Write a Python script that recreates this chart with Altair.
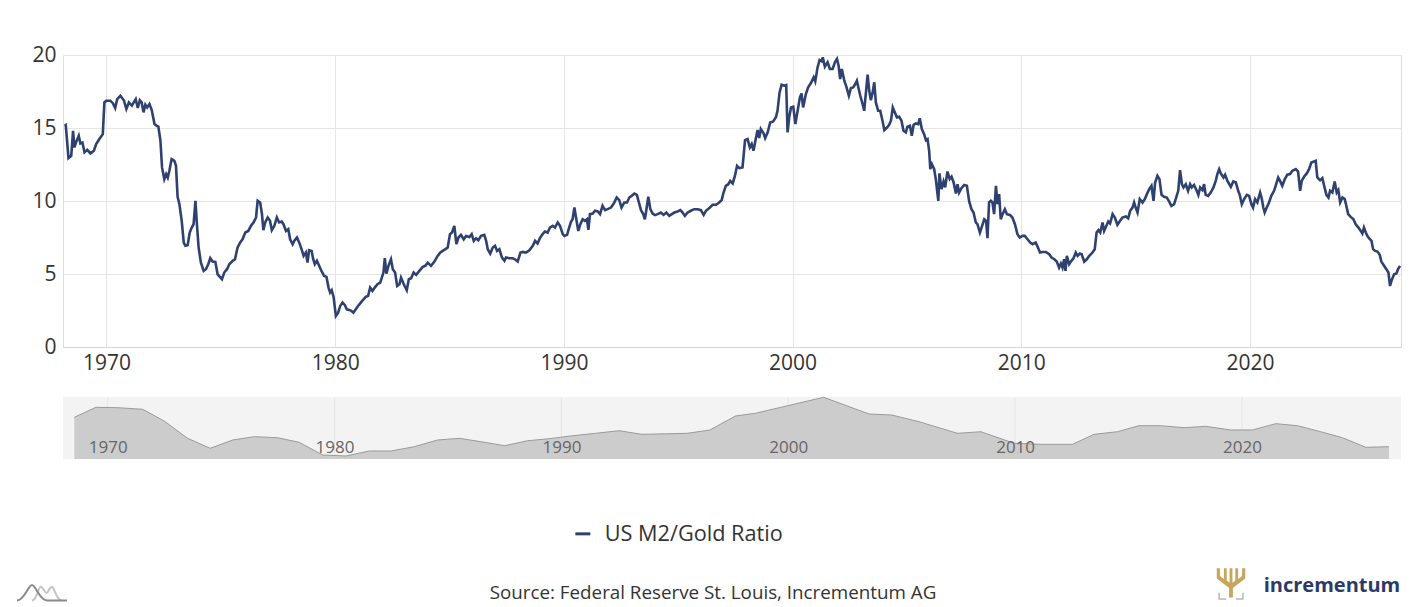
import altair as alt
import pandas as pd

# ---------------- data ----------------
series_name = "US M2/Gold Ratio"
source_note = "Source: Federal Reserve St. Louis, Incrementum AG"
brand_name = "incrementum"

x_ticks = [1970, 1980, 1990, 2000, 2010, 2020]
y_ticks = [0, 5, 10, 15, 20]

ratio_1968_1982 = [
    (1968.17, 15.15), (1968.22, 15.2), (1968.34, 12.94), (1968.46, 13.1), (1968.54, 14.8),
    (1968.60, 13.67), (1968.69, 14.1), (1968.79, 14.47), (1968.86, 13.94), (1968.95, 14.0),
    (1969.04, 13.33), (1969.16, 13.5), (1969.30, 13.26), (1969.45, 13.44), (1969.55, 13.9),
    (1969.69, 14.24), (1969.84, 14.58), (1969.91, 16.75), (1969.99, 16.87), (1970.17, 16.87),
    (1970.28, 16.7), (1970.38, 16.37), (1970.47, 16.98), (1970.61, 17.21), (1970.76, 16.9),
    (1970.87, 16.3), (1970.98, 16.75), (1971.11, 16.53), (1971.28, 16.98), (1971.37, 16.37),
    (1971.46, 16.9), (1971.54, 16.75), (1971.62, 16.07), (1971.70, 16.6), (1971.78, 16.41),
    (1971.88, 16.64), (1971.98, 16.23), (1972.10, 15.27), (1972.20, 15.15), (1972.27, 15.09),
    (1972.36, 14.13), (1972.43, 12.3), (1972.53, 11.5), (1972.61, 11.84), (1972.68, 11.61),
    (1972.75, 12.07), (1972.85, 12.87), (1972.97, 12.75), (1973.04, 12.41), (1973.11, 10.29),
    (1973.19, 9.78), (1973.29, 8.64), (1973.38, 7.15), (1973.45, 6.93), (1973.55, 6.97),
    (1973.64, 7.84), (1973.73, 8.18), (1973.81, 8.41), (1973.89, 10.01), (1973.96, 8.3),
    (1974.03, 6.81), (1974.13, 5.78), (1974.25, 5.21), (1974.35, 5.33), (1974.45, 5.67),
    (1974.54, 6.08), (1974.64, 5.85), (1974.76, 5.83), (1974.86, 4.98), (1974.96, 4.8),
    (1975.05, 4.64), (1975.15, 5.1), (1975.27, 5.33), (1975.37, 5.67), (1975.52, 5.9),
    (1975.62, 6.01), (1975.73, 6.81), (1975.84, 7.15), (1975.95, 7.38), (1976.07, 7.84),
    (1976.20, 7.95), (1976.32, 8.3), (1976.43, 8.53), (1976.54, 8.87), (1976.61, 10.01),
    (1976.72, 9.9), (1976.80, 9.1), (1976.86, 8.0), (1976.94, 8.53), (1977.05, 8.87),
    (1977.15, 8.64), (1977.23, 8.0), (1977.34, 8.3), (1977.45, 8.87), (1977.55, 8.53),
    (1977.66, 8.59), (1977.74, 8.41), (1977.85, 7.95), (1977.95, 8.07), (1978.03, 7.38),
    (1978.14, 7.04), (1978.21, 7.27), (1978.33, 7.5), (1978.43, 7.15), (1978.53, 6.7),
    (1978.62, 6.24), (1978.72, 6.47), (1978.79, 5.78), (1978.86, 6.63), (1978.97, 6.58),
    (1979.04, 6.01), (1979.11, 5.67), (1979.20, 5.9), (1979.30, 5.56), (1979.40, 5.21),
    (1979.52, 4.87), (1979.62, 4.8), (1979.71, 4.07), (1979.78, 3.73), (1979.85, 3.89),
    (1979.93, 3.43), (1980.03, 2.13), (1980.13, 2.35), (1980.22, 2.81), (1980.32, 3.04),
    (1980.42, 2.88), (1980.51, 2.58), (1980.61, 2.54), (1980.71, 2.47), (1980.80, 2.35),
    (1980.90, 2.58), (1981.00, 2.81), (1981.12, 3.04), (1981.24, 3.27), (1981.34, 3.43),
    (1981.44, 3.5), (1981.53, 4.07), (1981.63, 3.84), (1981.73, 4.07), (1981.85, 4.3),
    (1981.97, 4.41), (1982.04, 4.75), (1982.11, 5.1), (1982.17, 6.08), (1982.24, 5.03),
    (1982.33, 5.56), (1982.44, 6.01),
]

ratio_1982_1997 = [
    (1982.52, 5.33), (1982.62, 5.1), (1982.71, 4.18), (1982.81, 4.3), (1982.88, 4.75),
    (1983.00, 4.3), (1983.13, 3.89), (1983.22, 4.64), (1983.32, 4.71), (1983.43, 5.1),
    (1983.54, 4.94), (1983.68, 5.21), (1983.83, 5.49), (1983.94, 5.56), (1984.05, 5.78),
    (1984.19, 5.56), (1984.34, 5.85), (1984.48, 6.24), (1984.60, 6.47), (1984.70, 6.58),
    (1984.82, 6.7), (1984.92, 6.81), (1985.02, 7.73), (1985.11, 7.84), (1985.21, 8.3),
    (1985.30, 7.04), (1985.39, 7.5), (1985.50, 7.68), (1985.62, 7.38), (1985.72, 7.61),
    (1985.87, 7.54), (1985.97, 7.73), (1986.06, 7.27), (1986.16, 7.45), (1986.26, 7.31),
    (1986.38, 7.61), (1986.52, 7.68), (1986.60, 7.27), (1986.67, 6.7), (1986.78, 6.4),
    (1986.89, 6.81), (1986.99, 6.93), (1987.08, 6.58), (1987.18, 6.7), (1987.29, 6.13),
    (1987.40, 5.9), (1987.47, 6.13), (1987.62, 6.08), (1987.76, 6.08), (1987.86, 6.01),
    (1987.98, 5.85), (1988.10, 6.47), (1988.20, 6.51), (1988.34, 6.47), (1988.49, 6.63),
    (1988.64, 6.93), (1988.74, 7.27), (1988.85, 7.09), (1988.95, 7.45), (1989.07, 7.73),
    (1989.17, 7.91), (1989.29, 7.84), (1989.39, 8.18), (1989.51, 8.3), (1989.61, 8.18),
    (1989.73, 8.53), (1989.83, 8.3), (1989.95, 7.73), (1990.02, 7.61), (1990.14, 7.68),
    (1990.21, 8.07), (1990.31, 8.57), (1990.38, 8.75), (1990.46, 9.55), (1990.53, 8.87),
    (1990.63, 7.95), (1990.72, 8.41), (1990.82, 8.75), (1990.92, 8.64), (1991.01, 8.75),
    (1991.07, 8.02), (1991.14, 9.1), (1991.26, 9.14), (1991.36, 9.33), (1991.48, 9.28),
    (1991.58, 9.1), (1991.69, 9.67), (1991.80, 9.37), (1991.91, 9.44), (1992.06, 9.55),
    (1992.18, 9.83), (1992.31, 10.24), (1992.42, 10.06), (1992.52, 9.55), (1992.64, 9.9),
    (1992.76, 9.9), (1992.86, 10.24), (1992.96, 10.35), (1993.08, 10.51), (1993.19, 10.42),
    (1993.30, 9.78), (1993.37, 9.37), (1993.47, 9.1), (1993.54, 8.75), (1993.60, 9.33),
    (1993.69, 10.29), (1993.78, 9.44), (1993.88, 9.14), (1993.98, 9.03), (1994.10, 9.1),
    (1994.24, 9.21), (1994.36, 9.05), (1994.48, 9.21), (1994.61, 8.98), (1994.72, 9.1),
    (1994.83, 9.21), (1994.97, 9.28), (1995.09, 9.37), (1995.19, 9.21), (1995.29, 8.98),
    (1995.41, 9.21), (1995.55, 9.33), (1995.70, 9.44), (1995.85, 9.44), (1995.99, 9.37),
    (1996.11, 9.05), (1996.21, 9.33), (1996.36, 9.51), (1996.50, 9.74), (1996.65, 9.74),
    (1996.79, 9.9), (1996.90, 10.06), (1996.98, 10.58),
]

ratio_1997_2011 = [
    (1997.08, 11.04), (1997.19, 11.15), (1997.27, 11.38), (1997.38, 11.2), (1997.48, 11.73),
    (1997.57, 12.41), (1997.67, 12.25), (1997.81, 12.3), (1997.92, 14.17), (1998.03, 14.24),
    (1998.13, 13.67), (1998.21, 13.9), (1998.29, 13.44), (1998.40, 14.35), (1998.47, 14.86),
    (1998.54, 14.31), (1998.61, 14.93), (1998.73, 14.63), (1998.80, 14.31), (1998.91, 14.7),
    (1999.02, 15.38), (1999.15, 15.45), (1999.27, 15.73), (1999.34, 16.18), (1999.43, 17.44),
    (1999.52, 17.97), (1999.63, 17.9), (1999.72, 17.94), (1999.78, 14.7), (1999.85, 15.73),
    (1999.93, 16.41), (2000.03, 16.46), (2000.12, 15.27), (2000.22, 16.18), (2000.32, 17.1),
    (2000.39, 17.37), (2000.46, 16.41), (2000.58, 17.33), (2000.68, 17.78), (2000.80, 18.08),
    (2000.92, 18.47), (2000.99, 18.19), (2001.09, 19.15), (2001.18, 19.66), (2001.27, 19.57),
    (2001.32, 19.84), (2001.41, 19.2), (2001.53, 19.5), (2001.63, 19.04), (2001.75, 19.04),
    (2001.85, 19.5), (2001.94, 19.73), (2002.01, 19.27), (2002.08, 18.35), (2002.15, 19.04),
    (2002.26, 18.24), (2002.36, 17.78), (2002.46, 17.21), (2002.55, 17.74), (2002.65, 17.78),
    (2002.74, 18.01), (2002.81, 18.24), (2002.88, 17.74), (2002.96, 17.21), (2003.06, 16.64),
    (2003.13, 16.18), (2003.20, 17.33), (2003.28, 18.65), (2003.35, 17.55), (2003.42, 16.91),
    (2003.50, 17.44), (2003.57, 18.13), (2003.64, 16.75), (2003.74, 16.18), (2003.83, 16.18),
    (2003.93, 15.5), (2004.01, 14.86), (2004.11, 15.0), (2004.22, 15.22), (2004.30, 15.5),
    (2004.38, 16.41), (2004.47, 16.07), (2004.56, 15.73), (2004.66, 15.77), (2004.76, 15.5),
    (2004.85, 14.81), (2004.95, 14.7), (2005.02, 15.09), (2005.13, 15.15), (2005.21, 14.47),
    (2005.29, 15.22), (2005.39, 15.31), (2005.49, 15.27), (2005.56, 15.66), (2005.65, 14.93),
    (2005.75, 14.58), (2005.83, 14.17), (2005.90, 14.24), (2005.97, 13.44), (2006.02, 12.18),
    (2006.09, 12.53), (2006.19, 12.18), (2006.26, 11.5), (2006.37, 10.01), (2006.42, 11.89),
    (2006.51, 10.81), (2006.60, 11.34), (2006.67, 10.93), (2006.77, 12.02), (2006.87, 11.5),
    (2006.95, 11.66), (2007.04, 11.27), (2007.14, 10.51), (2007.21, 11.15), (2007.28, 10.58),
    (2007.38, 10.88), (2007.50, 11.09), (2007.62, 11.04), (2007.72, 9.97), (2007.82, 9.44),
    (2007.91, 9.21), (2008.01, 8.53), (2008.08, 8.41), (2008.19, 7.84), (2008.26, 8.18),
    (2008.38, 8.75), (2008.46, 8.64), (2008.52, 7.45), (2008.59, 9.9), (2008.67, 10.01),
    (2008.74, 9.9), (2008.81, 9.1), (2008.89, 11.04), (2008.96, 9.78), (2009.03, 10.47),
    (2009.10, 8.75), (2009.18, 9.1), (2009.28, 9.44), (2009.37, 9.1), (2009.50, 9.05),
    (2009.61, 8.87), (2009.72, 8.41), (2009.83, 7.73), (2009.93, 7.5), (2010.05, 7.61),
    (2010.15, 7.61), (2010.27, 7.38), (2010.39, 7.15), (2010.49, 7.04), (2010.63, 7.15),
    (2010.74, 6.77), (2010.82, 6.47), (2010.93, 6.51), (2011.07, 6.51), (2011.22, 6.35),
    (2011.32, 6.13), (2011.44, 6.01), (2011.55, 5.85), (2011.65, 5.44),
]

ratio_2011_2026 = [
    (2011.73, 5.71), (2011.80, 5.44), (2011.87, 6.01), (2011.93, 5.21), (2011.99, 6.24),
    (2012.09, 5.67), (2012.19, 5.9), (2012.28, 6.08), (2012.38, 6.47), (2012.46, 6.24),
    (2012.56, 6.4), (2012.64, 6.35), (2012.75, 5.85), (2012.86, 6.01), (2012.97, 6.24),
    (2013.11, 6.47), (2013.21, 6.7), (2013.29, 7.84), (2013.37, 8.0), (2013.45, 7.84),
    (2013.55, 8.53), (2013.62, 7.95), (2013.72, 8.3), (2013.80, 8.59), (2013.88, 8.46),
    (2013.99, 9.1), (2014.09, 8.87), (2014.20, 8.37), (2014.32, 8.64), (2014.42, 8.87),
    (2014.57, 8.94), (2014.67, 8.82), (2014.76, 9.33), (2014.86, 9.55), (2014.93, 9.9),
    (2015.00, 9.55), (2015.08, 9.21), (2015.18, 10.13), (2015.30, 9.9), (2015.40, 10.13),
    (2015.49, 10.47), (2015.59, 10.81), (2015.69, 11.04), (2015.78, 10.01), (2015.85, 11.27),
    (2015.95, 11.73), (2016.04, 11.5), (2016.13, 10.42), (2016.24, 10.29), (2016.36, 10.24),
    (2016.46, 9.97), (2016.56, 9.67), (2016.68, 9.78), (2016.75, 10.13), (2016.86, 10.7),
    (2016.94, 12.11), (2017.02, 11.15), (2017.09, 10.93), (2017.19, 11.15), (2017.29, 10.7),
    (2017.38, 11.15), (2017.45, 10.93), (2017.55, 11.1), (2017.67, 10.7), (2017.74, 10.42),
    (2017.82, 10.93), (2017.92, 10.75), (2017.99, 11.15), (2018.06, 10.42), (2018.17, 10.35),
    (2018.28, 10.58), (2018.40, 10.93), (2018.50, 11.38), (2018.57, 11.84), (2018.65, 12.18),
    (2018.72, 11.89), (2018.84, 11.61), (2018.91, 11.8), (2019.01, 11.38), (2019.16, 10.97),
    (2019.27, 11.34), (2019.38, 11.27), (2019.48, 10.7), (2019.55, 10.42), (2019.64, 9.78),
    (2019.74, 10.13), (2019.86, 10.42), (2019.96, 10.35), (2020.06, 9.78), (2020.13, 9.55),
    (2020.22, 10.13), (2020.32, 9.9), (2020.44, 10.58), (2020.51, 10.19), (2020.58, 9.55),
    (2020.64, 9.21), (2020.73, 9.55), (2020.83, 9.9), (2020.93, 10.35), (2021.05, 10.7),
    (2021.12, 11.04), (2021.23, 11.61), (2021.31, 11.38), (2021.41, 11.04), (2021.52, 11.5),
    (2021.63, 11.8), (2021.75, 11.84), (2021.85, 12.07), (2022.00, 12.18), (2022.10, 12.02),
    (2022.19, 10.7), (2022.26, 11.38), (2022.36, 11.66), (2022.48, 11.89), (2022.58, 12.18),
    (2022.68, 12.64), (2022.80, 12.71), (2022.87, 12.75), (2022.94, 11.61), (2023.06, 11.43),
    (2023.16, 11.57), (2023.24, 11.04), (2023.34, 10.42), (2023.43, 10.24), (2023.50, 10.7),
    (2023.60, 10.58), (2023.70, 11.34), (2023.79, 10.58), (2023.86, 10.75), (2023.94, 9.9),
    (2024.04, 10.24), (2024.14, 10.13), (2024.21, 9.67), (2024.29, 9.1), (2024.40, 8.91),
    (2024.52, 8.75), (2024.62, 8.41), (2024.74, 8.18), (2024.84, 7.95), (2024.91, 7.77),
    (2024.98, 8.18), (2025.06, 7.84), (2025.13, 7.61), (2025.20, 7.45), (2025.31, 7.27),
    (2025.38, 6.7), (2025.47, 6.58), (2025.57, 6.54), (2025.67, 6.31), (2025.74, 5.85),
    (2025.86, 5.56), (2025.96, 5.33), (2026.05, 5.1), (2026.12, 4.18), (2026.19, 4.57),
    (2026.30, 4.98), (2026.40, 5.03), (2026.47, 5.33), (2026.56, 5.56),
]

# coarse series shown in the navigator strip under the chart
navigator_points = [
    (1968.53, 13.77), (1969.48, 16.59), (1970.44, 16.48), (1971.54, 16.03), (1972.49, 12.73),
    (1973.52, 7.84), (1974.52, 5.02), (1975.51, 7.36), (1976.46, 8.30), (1977.49, 8.01),
    (1978.44, 6.71), (1979.48, 3.13), (1980.50, 2.85), (1981.53, 4.26), (1982.49, 4.26),
    (1983.51, 5.47), (1984.54, 7.36), (1985.50, 7.84), (1986.45, 6.88), (1987.50, 5.75),
    (1988.50, 7.15), (1989.50, 7.75), (1990.40, 8.50), (1991.50, 9.25), (1992.54, 9.99),
    (1993.54, 8.97), (1994.55, 9.10), (1995.55, 9.25), (1996.55, 10.19), (1997.67, 14.14),
    (1998.55, 14.90), (2001.56, 19.42), (2003.56, 14.70), (2004.56, 14.42), (2005.76, 12.53),
    (2007.46, 9.25), (2008.49, 9.70), (2009.96, 6.43), (2011.13, 6.14), (2012.53, 6.14),
    (2013.48, 8.97), (2014.51, 9.70), (2015.46, 11.40), (2016.42, 11.40), (2017.45, 10.84),
    (2018.40, 11.23), (2019.50, 10.19), (2020.46, 10.19), (2021.49, 11.97), (2022.45, 11.40),
    (2023.47, 9.70), (2024.43, 8.01), (2025.46, 5.30), (2026.48, 5.47),
]

# ---------------- styling ----------------
FONT = "Open Sans"
NAVY = "#2e4170"
TEXT = "#333333"
GRID = "#e6e6e6"

# decorative glyph outlines (unit square -1..1), drawn as custom point shapes
TREE_PATH = ("M -0.12 0.85 L -0.12 0.25 L -0.9 -0.35 L -0.9 -1 L -0.7 -1 L -0.7 -0.5 "
             "L -0.45 -0.32 L -0.45 -1 L -0.27 -1 L -0.27 -0.22 L -0.09 -0.08 L -0.09 -1 "
             "L 0.09 -1 L 0.09 -0.08 L 0.27 -0.22 L 0.27 -1 L 0.45 -1 L 0.45 -0.32 "
             "L 0.7 -0.5 L 0.7 -1 L 0.9 -1 L 0.9 -0.35 L 0.12 0.25 L 0.12 0.85 Z")
BASE_PATH = "M -0.75 0.55 L -0.75 0.95 L -0.3 0.95 M 0.3 0.95 L 0.75 0.95 L 0.75 0.55"
CURVE_DARK = "M -1 0.3 C -0.7 0.3 -0.55 -0.32 -0.4 -0.32 C -0.25 -0.32 -0.1 0.3 0.2 0.3 L 1 0.3"
CURVE_LIGHT = ("M -0.4 0.3 C -0.2 0.3 -0.15 -0.25 -0.05 -0.25 C 0.05 -0.25 0.1 0 0.18 0 "
               "C 0.25 0 0.3 -0.25 0.4 -0.25 C 0.5 -0.25 0.55 0.3 0.8 0.3")

main_df = pd.DataFrame(ratio_1968_1982 + ratio_1982_1997 + ratio_1997_2011 + ratio_2011_2026,
                       columns=["year", "ratio"])
main_df["series"] = series_name
nav_df = pd.DataFrame(navigator_points, columns=["year", "ratio"])
tick_df = pd.DataFrame({"year": x_ticks})
note_df = pd.DataFrame({"t": [source_note]})
brand_df = pd.DataFrame({"t": [brand_name]})
one_df = pd.DataFrame({"k": [1]})

main = alt.Chart(main_df).mark_line(strokeWidth=2.6).encode(
    x=alt.X("year:Q",
            scale=alt.Scale(domain=[1968.1, 2026.6], nice=False, zero=False),
            axis=alt.Axis(values=x_ticks, format="d", title=None, grid=True, gridColor=GRID,
                          domainColor="#ccd6eb", ticks=False, labelFontSize=21, labelFont=FONT,
                          labelColor=TEXT, labelPadding=5, labelFlush=False)),
    y=alt.Y("ratio:Q",
            scale=alt.Scale(domain=[0, 20], nice=False),
            axis=alt.Axis(values=y_ticks, title=None, grid=True, gridColor=GRID, domain=False,
                          ticks=False, labelFontSize=21, labelFont=FONT, labelColor=TEXT,
                          labelPadding=7, minExtent=49, maxExtent=49)),
    color=alt.Color("series:N", scale=alt.Scale(range=[NAVY]),
                    legend=alt.Legend(title=None, orient="none", legendX=509, legendY=468,
                                      symbolType="stroke", symbolStrokeWidth=3, symbolSize=225,
                                      labelFontSize=21.7, labelFont=FONT, labelColor=TEXT,
                                      labelOffset=11, labelLimit=0)),
).properties(width=1338, height=292)

nav_x = alt.X("year:Q",
              scale=alt.Scale(domain=[1968.03, 2027.01], nice=False, zero=False),
              axis=alt.Axis(values=x_ticks, format="d", title=None, grid=False, domain=False,
                            ticks=False, labelFontSize=17, labelFont=FONT, labelColor="#666666",
                            labelPadding=-7, labelBaseline="alphabetic", labelFlush=False,
                            zindex=1))

nav_grid = alt.Chart(tick_df).mark_rule(color=GRID, strokeWidth=1).encode(
    x=alt.X("year:Q"))

nav_area = alt.Chart(nav_df).mark_area(
    color="#cccccc", opacity=1, fillOpacity=1,
    line={"color": "#9a9a9a", "strokeWidth": 1}, interpolate="linear"
).encode(
    x=nav_x,
    y=alt.Y("ratio:Q", scale=alt.Scale(domain=[2.0, 19.5], nice=False, zero=False),
            axis=alt.Axis(title=None, labels=False, ticks=False, domain=False, grid=False,
                          minExtent=49, maxExtent=49)),
    y2=alt.Y2Datum(2.0),
)

note = alt.Chart(note_df).mark_text(fontSize=18.8, font=FONT, color=TEXT, align="center",
                                    baseline="middle").encode(
    text="t:N", x=alt.value(650), y=alt.value(196))

brand = alt.Chart(brand_df).mark_text(fontSize=20, font=FONT, fontWeight="bold", color="#2b3a67",
                                      align="center", baseline="middle").encode(
    text="t:N", x=alt.value(1269), y=alt.value(189))

tree = alt.Chart(one_df).mark_point(shape=TREE_PATH, size=1000, filled=True, opacity=1,
                                    color="#c8a55f").encode(
    x=alt.value(1168), y=alt.value(187))
tree_base = alt.Chart(one_df).mark_point(shape=BASE_PATH, size=1000, filled=False, opacity=1,
                                         color="#b8b8b8", strokeWidth=1.5).encode(
    x=alt.value(1168), y=alt.value(187))

curve_dark = alt.Chart(one_df).mark_point(shape=CURVE_DARK, size=2500, filled=False, opacity=1,
                                          color="#8a8a8a", strokeWidth=2).encode(
    x=alt.value(-21), y=alt.value(196))
curve_light = alt.Chart(one_df).mark_point(shape=CURVE_LIGHT, size=2500, filled=False, opacity=1,
                                           color="#c4c4c4", strokeWidth=2).encode(
    x=alt.value(-21), y=alt.value(196))

navigator = alt.layer(nav_grid, nav_area, note, brand, tree_base, tree,
                      curve_light, curve_dark).properties(
    width=1338, height=62, view=alt.ViewBackground(fill="#f3f3f3", stroke=None))

chart = alt.vconcat(main, navigator, spacing=21).properties(
    padding={"left": 5, "top": 35, "right": 5, "bottom": 6}
).configure_view(stroke=None).configure(background="white")

chart.save("out.html", embed_options={"renderer": "svg", "actions": False})
